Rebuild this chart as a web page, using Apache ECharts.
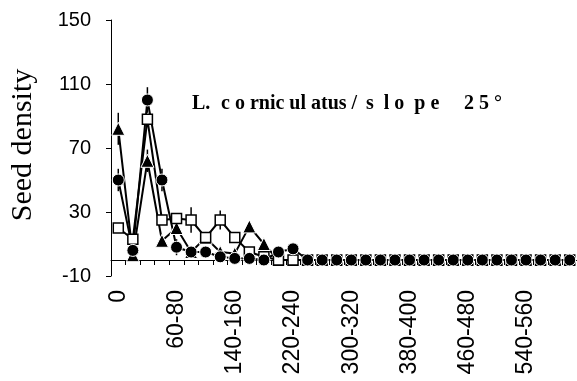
<!DOCTYPE html>
<html>
<head>
<meta charset="utf-8">
<script src="https://cdn.jsdelivr.net/npm/echarts@6/dist/echarts.min.js"></script>
<style>
  html, body { margin: 0; padding: 0; background: #fff; }
  #chart { width: 577px; height: 381px; }
</style>
</head>
<body>
<div id="chart"></div>
<script>
// Depth classes (mm): "0", then 20 mm bands
const categories = ['0', '0-20', '20-40', '40-60', '60-80', '80-100', '100-120', '120-140',
  '140-160', '160-180', '180-200', '200-220', '220-240', '240-260', '260-280', '280-300',
  '300-320', '320-340', '340-360', '360-380', '380-400', '400-420', '420-440', '440-460',
  '460-480', '480-500', '500-520', '520-540', '540-560', '560-580', '580-600', '600-620'];

// Seed density per depth class, three sampling series
const circleValues = [50, 6, 100, 50, 8, 5, 5, 2, 1, 1, 0, 5, 7, 0, 0, 0,
  0, 0, 0, 0, 0, 0, 0, 0, 0, 0, 0, 0, 0, 0, 0, 0];
const squareValues = [20, 13, 88, 25, 26, 25, 14, 25, 14, 5, 2, 0, 0, 0, 0, 0,
  0, 0, 0, 0, 0, 0, 0, 0, 0, 0, 0, 0, 0, 0, 0, 0];
const triangleValues = [82, 3, 62, 12, 20, 5, 14, 5, 4, 21, 10, 0, 0, 0, 0, 0,
  0, 0, 0, 0, 0, 0, 0, 0, 0, 0, 0, 0, 0, 0, 0, 0];

// Half-width of error bars (0 = none drawn)
const circleErr = [7, 0, 8, 7, 5, 0, 0, 0, 0, 0, 0, 0, 0, 0, 0, 0,
  0, 0, 0, 0, 0, 0, 0, 0, 0, 0, 0, 0, 0, 0, 0, 0];
const squareErr = [0, 0, 0, 0, 0, 8, 0, 6, 0, 0, 0, 0, 0, 0, 0, 0,
  0, 0, 0, 0, 0, 0, 0, 0, 0, 0, 0, 0, 0, 0, 0, 0];
const triangleErr = [10, 0, 7, 0, 4, 0, 0, 0, 0, 0, 0, 0, 0, 0, 0, 0,
  0, 0, 0, 0, 0, 0, 0, 0, 0, 0, 0, 0, 0, 0, 0, 0];

const yTicks = { min: -10, max: 150, step: 40 };

// Title pieces, spaced out across the plot area
const titleParts = [
  { text: 'L.', x: 192 },
  { text: 'c o rnic ul atus /', x: 221 },
  { text: 's  l o  p e', x: 366 },
  { text: '2 5 °', x: 464 }
];

const chart = echarts.init(document.getElementById('chart'), null, { renderer: 'canvas' });

function errorSeries(values, errs) {
  const data = [];
  values.forEach((v, i) => { if (errs[i] > 0) data.push([i, v - errs[i], v + errs[i]]); });
  return {
    type: 'custom',
    silent: true,
    z: 1,
    data: data,
    renderItem: function (params, api) {
      const lo = api.coord([api.value(0), api.value(1)]);
      const hi = api.coord([api.value(0), api.value(2)]);
      return {
        type: 'line',
        shape: { x1: lo[0], y1: lo[1], x2: hi[0], y2: hi[1] },
        style: { stroke: '#000', lineWidth: 1.5 }
      };
    }
  };
}

function lineSeries(values, symbol, size, filled) {
  return {
    type: 'line',
    data: values,
    symbol: symbol,
    symbolSize: size,
    showAllSymbol: true,
    z: 3,
    lineStyle: { color: '#000', width: 2 },
    itemStyle: filled
      ? { color: '#000', borderColor: '#fff', borderWidth: 1 }
      : { color: '#fff', borderColor: '#000', borderWidth: 1.5 },
    emphasis: { disabled: true },
    animation: false
  };
}

const graphics = [
  {
    type: 'text',
    x: 23, y: 145,
    rotation: Math.PI / 2,
    style: {
      text: 'Seed density',
      align: 'center',
      verticalAlign: 'middle',
      fill: '#000',
      font: '30px "Liberation Serif", "Times New Roman", serif'
    }
  }
].concat(titleParts.map(p => ({
  type: 'text',
  x: p.x, y: 104,
  style: {
    text: p.text,
    verticalAlign: 'middle',
    fill: '#000',
    font: 'bold 20px "Liberation Serif", "Times New Roman", serif'
  }
})));

chart.setOption({
  animation: false,
  grid: { left: 111, right: 0, top: 20, bottom: 105 },
  xAxis: {
    type: 'category',
    data: categories,
    boundaryGap: true,
    axisLine: { onZero: true, lineStyle: { color: '#000', width: 1 } },
    axisTick: { show: true, interval: 0, length: 5, lineStyle: { color: '#000' } },
    axisLabel: {
      interval: 3,
      rotate: 90,
      margin: 14,
      color: '#000',
      fontFamily: 'Liberation Sans, Arial, sans-serif',
      fontSize: 23
    },
    splitLine: { show: false }
  },
  yAxis: {
    type: 'value',
    min: yTicks.min,
    max: yTicks.max,
    interval: yTicks.step,
    axisLine: { show: true, lineStyle: { color: '#000', width: 1 } },
    axisTick: { show: true, length: 5, lineStyle: { color: '#000' } },
    axisLabel: {
      color: '#000',
      margin: 20,
      fontFamily: 'Liberation Sans, Arial, sans-serif',
      fontSize: 20
    },
    splitLine: { show: false }
  },
  graphic: graphics,
  series: [
    errorSeries(circleValues, circleErr),
    errorSeries(squareValues, squareErr),
    errorSeries(triangleValues, triangleErr),
    lineSeries(triangleValues, 'triangle', 13, true),
    lineSeries(squareValues, 'rect', 10, false),
    lineSeries(circleValues, 'circle', 12, true)
  ]
});
</script>
</body>
</html>
